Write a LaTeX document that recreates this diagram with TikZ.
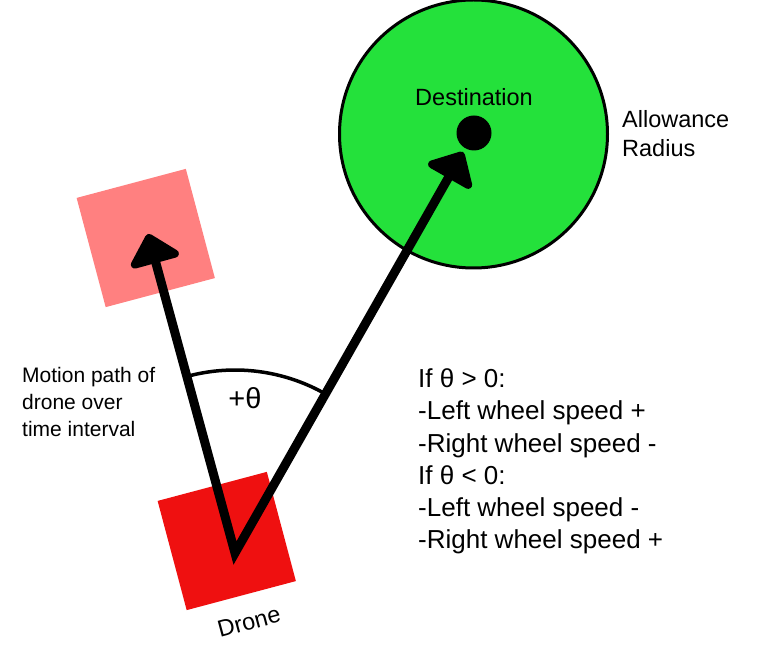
\documentclass[tikz,border=0pt]{standalone}
\usepackage{fontspec}
\setmainfont{Liberation Sans}
\usetikzlibrary{arrows.meta}
\definecolor{goalgreen}{RGB}{36,225,59}
\definecolor{ghostred}{RGB}{255,128,128}
\definecolor{dronered}{RGB}{239,16,16}
\begin{document}
\begin{tikzpicture}[x=1pt,y=-1pt,
  txt/.style={inner sep=0pt, anchor=base west},
  fsmall/.style={font=\fontsize{21}{26}\selectfont},
  fmid/.style={font=\fontsize{23.5}{28}\selectfont},
  frule/.style={font=\fontsize{26}{30}\selectfont},
  square/.style={inner sep=0pt, minimum size=113pt, rotate=14.9},
  vec/.style={line width=9pt,
    {Triangle[length=32pt,width=58pt,round]}-{Triangle[length=32pt,width=58pt,round]}}]
\useasboundingbox (0,0) rectangle (777,660);
\fill[white] (0,0) rectangle (777,660);
% destination zone
\node[circle, draw=black, line width=3pt, fill=goalgreen, minimum size=268pt, inner sep=0pt] (zone) at (473.5,134) {};
\node[circle, fill=black, minimum size=35pt, inner sep=0pt] (dest) at (474,133) {};
\node[fmid, inner sep=0pt, anchor=base] (destlbl) at (474,106) {Destination};
\node[txt, fmid] (allow1) at (622,128) {Allowance};
\node[txt, fmid] (allow2) at (622,157) {Radius};
% squares
\node[square, fill=ghostred] (ghost) at (145.75,238) {};
\node[square, fill=dronered] (drone) at (226.75,541) {};
\node[fmid, inner sep=0pt, rotate=15] (dronelbl) at (249,622) {Drone};
% vectors
\coordinate (origin) at (235,553);
\coordinate (tipL) at (148,234);
\coordinate (tipR) at (463,152);
\draw[vec] (tipL) -- (origin) -- (tipR);
% angle arc
\draw[line width=3.5pt] (origin) ++(-105.3:183) arc[start angle=-105.3, end angle=-60.4, radius=183];
\node[inner sep=0pt, anchor=base, font=\fontsize{29}{34}\selectfont] (theta) at (245,409) {+θ};
% left note
\node[txt, fsmall] (m1) at (22,383) {Motion path of};
\node[txt, fsmall] (m2) at (22,409.5) {drone over};
\node[txt, fsmall] (m3) at (22,436) {time interval};
% rules
\node[txt, frule] (r1) at (418,388) {If θ > 0:};
\node[txt, frule] (r2) at (418,420) {-Left wheel speed +};
\node[txt, frule] (r3) at (418,452) {-Right wheel speed -};
\node[txt, frule] (r4) at (418,484) {If θ < 0:};
\node[txt, frule] (r5) at (418,516) {-Left wheel speed -};
\node[txt, frule] (r6) at (418,548) {-Right wheel speed +};
\end{tikzpicture}
\end{document}
